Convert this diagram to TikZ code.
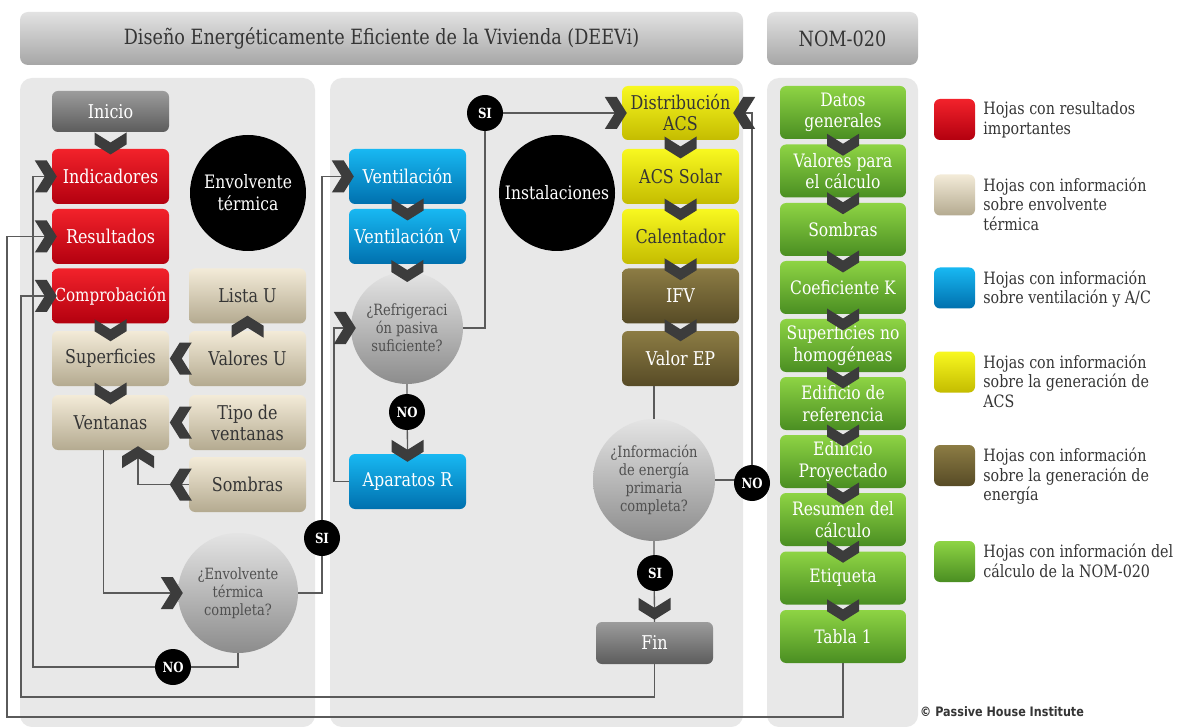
\documentclass[tikz,border=0pt]{standalone}
\usepackage{fontspec}
\setmainfont{DejaVu Serif}[FakeStretch=0.84]
\newfontfamily\copyfont{DejaVu Sans}[FakeStretch=0.86]
\usetikzlibrary{positioning, calc}
\definecolor{panelgray}{HTML}{E8E8E8}
\definecolor{hdrtop}{HTML}{E2E2E2}
\definecolor{hdrbot}{HTML}{A6A6A6}
\definecolor{darktext}{HTML}{353535}
\definecolor{redtop}{HTML}{F2222B}
\definecolor{redbot}{HTML}{B3000F}
\definecolor{beigetop}{HTML}{F3EBD8}
\definecolor{beigebot}{HTML}{B4AA90}
\definecolor{bluetop}{HTML}{18B8F2}
\definecolor{bluebot}{HTML}{0070AE}
\definecolor{yeltop}{HTML}{F8F820}
\definecolor{yelbot}{HTML}{C4BC00}
\definecolor{olivetop}{HTML}{8C7C44}
\definecolor{olivebot}{HTML}{574B26}
\definecolor{greentop}{HTML}{8ED444}
\definecolor{greenbot}{HTML}{4A8E22}
\definecolor{greytop}{HTML}{9C9C9C}
\definecolor{greybot}{HTML}{5C5C5C}
\definecolor{asktop}{HTML}{E4E4E4}
\definecolor{askbot}{HTML}{8C8C8C}
\definecolor{asktext}{HTML}{505050}
\definecolor{chevgray}{HTML}{3C3C3C}
\definecolor{linkgray}{HTML}{5A5A5A}

\begin{document}
\begin{tikzpicture}[x=1pt, y=-1pt,
        sheet/.style={rounded corners=6pt, minimum width=117pt, minimum height=55pt,
            inner sep=1pt, align=center, font=\fontsize{19}{21}\selectfont},
        redsheet/.style={sheet, top color=redtop, bottom color=redbot, text=white},
        beigesheet/.style={sheet, top color=beigetop, bottom color=beigebot, text=darktext},
        bluesheet/.style={sheet, top color=bluetop, bottom color=bluebot, text=white},
        yelsheet/.style={sheet, top color=yeltop, bottom color=yelbot, text=darktext},
        olivesheet/.style={sheet, top color=olivetop, bottom color=olivebot, text=white},
        greensheet/.style={sheet, top color=greentop, bottom color=greenbot, text=white,
            minimum width=126pt, minimum height=53pt, font=\fontsize{18.5}{21.5}\selectfont},
        greysheet/.style={sheet, top color=greytop, bottom color=greybot, text=white},
        header/.style={rounded corners=8pt, minimum height=53pt, top color=hdrtop,
            bottom color=hdrbot, text=darktext, font=\fontsize{21}{24}\selectfont},
        ask/.style={circle, top color=asktop, bottom color=askbot, text=asktext,
            align=center, inner sep=0pt, font=\fontsize{15.5}{18}\selectfont},
        topic/.style={circle, fill=black, text=white, minimum size=116pt, inner sep=0pt,
            align=center, font=\fontsize{18.5}{22}\selectfont},
        tag/.style={circle, fill=black, text=white, minimum size=36pt, inner sep=0pt,
            font=\fontsize{14}{14}\selectfont\bfseries},
        swatch/.style={rounded corners=6pt, minimum size=41pt, inner sep=0pt},
        legend/.style={anchor=north west, inner sep=0pt, align=left, text=darktext,
            font=\fontsize{17}{19.5}\selectfont},
        link/.style={draw=linkgray, line width=1.3pt},
        chev/.pic={\fill[chevgray] (-16,-11) -- (0,-1) -- (16,-11) -- (16,1) -- (0,11) -- (-16,1) -- cycle;}
    ]
    \useasboundingbox (0,0) rectangle (1186,727);
    \fill[white] (0,0) rectangle (1186,727);

    % panels
    \fill[panelgray, rounded corners=12pt] (20,78) rectangle (315,727);
    \fill[panelgray, rounded corners=12pt] (330,78) rectangle (743,727);
    \fill[panelgray, rounded corners=12pt] (767,78) rectangle (918,727);

    \node[header, minimum width=723pt] (hdrdeevi) at (381.5,38.5)
        {Diseño Energéticamente Eficiente de la Vivienda (DEEVi)};
    \node[header, minimum width=151pt] (hdrnom) at (842.5,38.5) {NOM-020};

    % envolvente
    \node[greysheet, minimum height=41pt] (inicio) at (110.5,111.5) {Inicio};
    \node[redsheet] (ind) at (110.5,176.5) {Indicadores};
    \node[redsheet] (res) at (110.5,236.5) {Resultados};
    \node[redsheet, inner xsep=0pt, font=\fontsize{18}{21}\selectfont] (comp) at (110.5,296) {Comprobación};
    \node[beigesheet] (sup) at (110.5,358.5) {Superficies};
    \node[beigesheet] (ven) at (110.5,422.5) {Ventanas};
    \node[beigesheet] (listau) at (247.5,296) {Lista U};
    \node[beigesheet] (valu) at (247.5,358.5) {Valores U};
    \node[beigesheet] (tipo) at (247.5,422.5) {Tipo de\\ventanas};
    \node[beigesheet] (somb) at (247.5,484.5) {Sombras};
    \node[topic] (envt) at (248,193) {Envolvente\\térmica};
    \node[ask, minimum size=120pt] (envq) at (238,593) {¿Envolvente\\térmica\\completa?};

    % instalaciones
    \node[bluesheet] (vent) at (407.5,176.5) {Ventilación};
    \node[bluesheet] (ventv) at (407.5,236.5) {Ventilación V};
    \node[ask, minimum size=112pt] (refq) at (407,328) {¿Refrigeraci\\ón pasiva\\suficiente?};
    \node[bluesheet] (apar) at (407.5,481.5) {Aparatos R};
    \node[topic] (inst) at (557,193) {Instalaciones};
    \node[yelsheet, minimum height=54pt] (dacs) at (680.5,113) {Distribución\\ACS};
    \node[yelsheet] (acss) at (680.5,176.5) {ACS Solar};
    \node[yelsheet] (cal) at (680.5,236.5) {Calentador};
    \node[olivesheet] (ifv) at (680.5,296) {IFV};
    \node[olivesheet] (vep) at (680.5,358.5) {Valor EP};
    \node[ask, minimum size=122pt] (infq) at (654,480) {¿Información\\de energía\\primaria\\completa?};
    \node[greysheet, minimum height=42pt] (fin) at (654.5,643) {Fin};

    % NOM-020
    \node[greensheet] (dat) at (843,112.5) {Datos\\generales};
    \node[greensheet] (vpc) at (843,171) {Valores para\\el cálculo};
    \node[greensheet] (sombn) at (843,229.5) {Sombras};
    \node[greensheet] (coef) at (843,287.5) {Coeficiente K};
    \node[greensheet] (supn) at (843,345.5) {Superficies no\\homogéneas};
    \node[greensheet] (eref) at (843,403.5) {Edificio de\\referencia};
    \node[greensheet] (eproy) at (843,461.5) {Edificio\\Proyectado};
    \node[greensheet] (resum) at (843,519.5) {Resumen del\\cálculo};
    \node[greensheet] (etiq) at (843,578) {Etiqueta};
    \node[greensheet] (tabla) at (843,636.5) {Tabla 1};

    % connectors
    \coordinate (backno) at (33,667);
    \coordinate (backfin) at (21,697);
    \coordinate (backtab) at (7,717);
    \coordinate (upsi) at (322,400);
    \coordinate (upref) at (485,200);
    \coordinate (backapar) at (334,400);
    \coordinate (upinf) at (752,300);
    \draw[link] (envq.south) |- (backno) |- (ind.west);
    \draw[link] (fin.south) |- (backfin) |- (comp.west);
    \draw[link] (tabla.south) |- (backtab) |- (res.west);
    \draw[link] ([xshift=-7pt]ven.south) |- (envq.west);
    \draw[link] (somb.west) -| ([xshift=27.5pt]ven.south);
    \draw[link] (envq.east) -| (upsi) |- (vent.west);
    \draw[link] (refq.south) -- (apar.north);
    \draw[link] (apar.west) -| (backapar) |- (refq.west);
    \draw[link] (refq.east) -| (upref) |- (dacs.west);
    \draw[link] (infq.north |- vep.south) -- (infq.north);
    \draw[link] (infq.east) -| (upinf) |- (dacs.east);
    \draw[link] (infq.south) -- (fin.north);

    \node[tag] (noenv) at (173,667) {NO};
    \node[tag] (sienv) at (322,538) {SI};
    \node[tag] (noref) at (407,412) {NO};
    \node[tag] (siref) at (485,113) {SI};
    \node[tag] (noinf) at (752,483) {NO};
    \node[tag] (siinf) at (655,573) {SI};

    % chevrons
    \foreach \a/\b in {inicio/ind, comp/sup, sup/ven, vent/ventv, ventv/refq,
            dacs/acss, acss/cal, cal/ifv, ifv/vep, dat/vpc, vpc/sombn, sombn/coef,
            coef/supn, supn/eref, eref/eproy, eproy/resum, resum/etiq, etiq/tabla}
        \pic at ($(\a.south)!0.5!(\b.north)+(0,3)$) {chev};
    \pic at ($(apar.north)+(0,-3)$) {chev};
    \pic at ($(fin.north)+(0,-13)$) {chev};
    \foreach \n in {ind, res, comp, vent, dacs, refq, envq}
        \pic[rotate=90] at ($(\n.west)+(-6,0)$) {chev};
    \pic[rotate=-90] at ($(dacs.east)+(5,0)$) {chev};
    \foreach \n in {valu, tipo, somb}
        \pic[rotate=-90] at ($(\n.west)+(-8,0)$) {chev};
    \pic[rotate=180] at ($(listau.south)+(0,3)$) {chev};
    \pic[rotate=180] at ($(ven.south)+(27.5,7)$) {chev};

    % legend
    \node[swatch, top color=redtop, bottom color=redbot] (sqred) at (954.5,119.5) {};
    \node[swatch, top color=beigetop, bottom color=beigebot] (sqbeige) at (954.5,195) {};
    \node[swatch, top color=bluetop, bottom color=bluebot] (sqblue) at (954.5,288) {};
    \node[swatch, top color=yeltop, bottom color=yelbot] (sqyel) at (954.5,372) {};
    \node[swatch, top color=olivetop, bottom color=olivebot] (sqolive) at (954.5,465.5) {};
    \node[swatch, top color=greentop, bottom color=greenbot] (sqgreen) at (954.5,561.5) {};
    \node[legend, right=8pt of sqred.north east, anchor=north west, yshift=-3pt] (lgred)
        {Hojas con resultados\\importantes};
    \node[legend, right=8pt of sqbeige.north east, anchor=north west, yshift=-3pt] (lgbeige)
        {Hojas con información\\sobre envolvente\\térmica};
    \node[legend, right=8pt of sqblue.north east, anchor=north west, yshift=-3pt] (lgblue)
        {Hojas con información\\sobre ventilación y A/C};
    \node[legend, right=8pt of sqyel.north east, anchor=north west, yshift=-3pt] (lgyel)
        {Hojas con información\\sobre la generación de\\ACS};
    \node[legend, right=8pt of sqolive.north east, anchor=north west, yshift=-3pt] (lgolive)
        {Hojas con información\\sobre la generación de\\energía};
    \node[legend, right=8pt of sqgreen.north east, anchor=north west, yshift=-3pt] (lggreen)
        {Hojas con información del\\cálculo de la NOM-020};

    \node[anchor=west, inner sep=0pt, text=darktext, font=\copyfont\fontsize{13}{13}\selectfont\bfseries]
        (copy) at (920,712) {© Passive House Institute};
\end{tikzpicture}
\end{document}
